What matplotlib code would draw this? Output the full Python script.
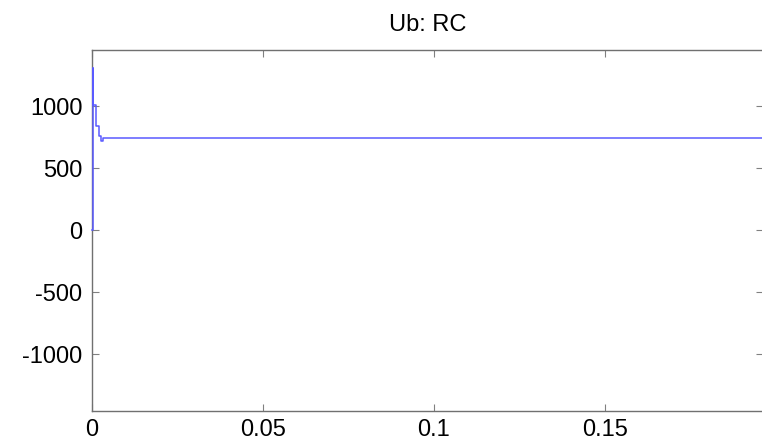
import matplotlib
matplotlib.use('Agg')
import matplotlib.pyplot as plt

# step signal Ub
t_points = [0.0, 0.0002, 0.0004, 0.0012, 0.002, 0.0026, 0.0031, 0.196]
ub_values = [0, 1310, 1008, 840, 758, 720, 742, 742]

x_ticks = [0, 0.05, 0.1, 0.15]
x_labels = ['0', '0.05', '0.1', '0.15']
y_ticks = [-1000, -500, 0, 500, 1000]
y_labels = ['-1000', '-500', '0', '500', '1000']

plt.rcParams['font.family'] = ['Liberation Sans', 'DejaVu Sans']

fig = plt.figure(figsize=(7.62, 4.43), dpi=100)
ax = fig.add_axes([92 / 762, 1 - 411 / 443, (763 - 92) / 762, (411 - 50) / 443])

ax.plot(t_points, ub_values, color='#5a5aff', linewidth=1.1,
        drawstyle='steps-post', clip_on=False, zorder=5)

ax.set_xlim(0, 0.1962)
ax.set_ylim(-1458, 1452)
ax.set_xticks(x_ticks)
ax.set_xticklabels(x_labels)
ax.set_yticks(y_ticks)
ax.set_yticklabels(y_labels)

for s in ax.spines.values():
    s.set_color('#707070')
    s.set_linewidth(1.0)
ax.spines['right'].set_visible(False)
ax.tick_params(direction='in', length=5, width=0.8, color='#808080',
               labelsize=17, top=True, right=True)
ax.tick_params(axis='y', pad=7)
ax.tick_params(axis='x', pad=6)

ax.set_title('Ub: RC', fontsize=17, pad=14)

fig.savefig('out.png', dpi=100)
